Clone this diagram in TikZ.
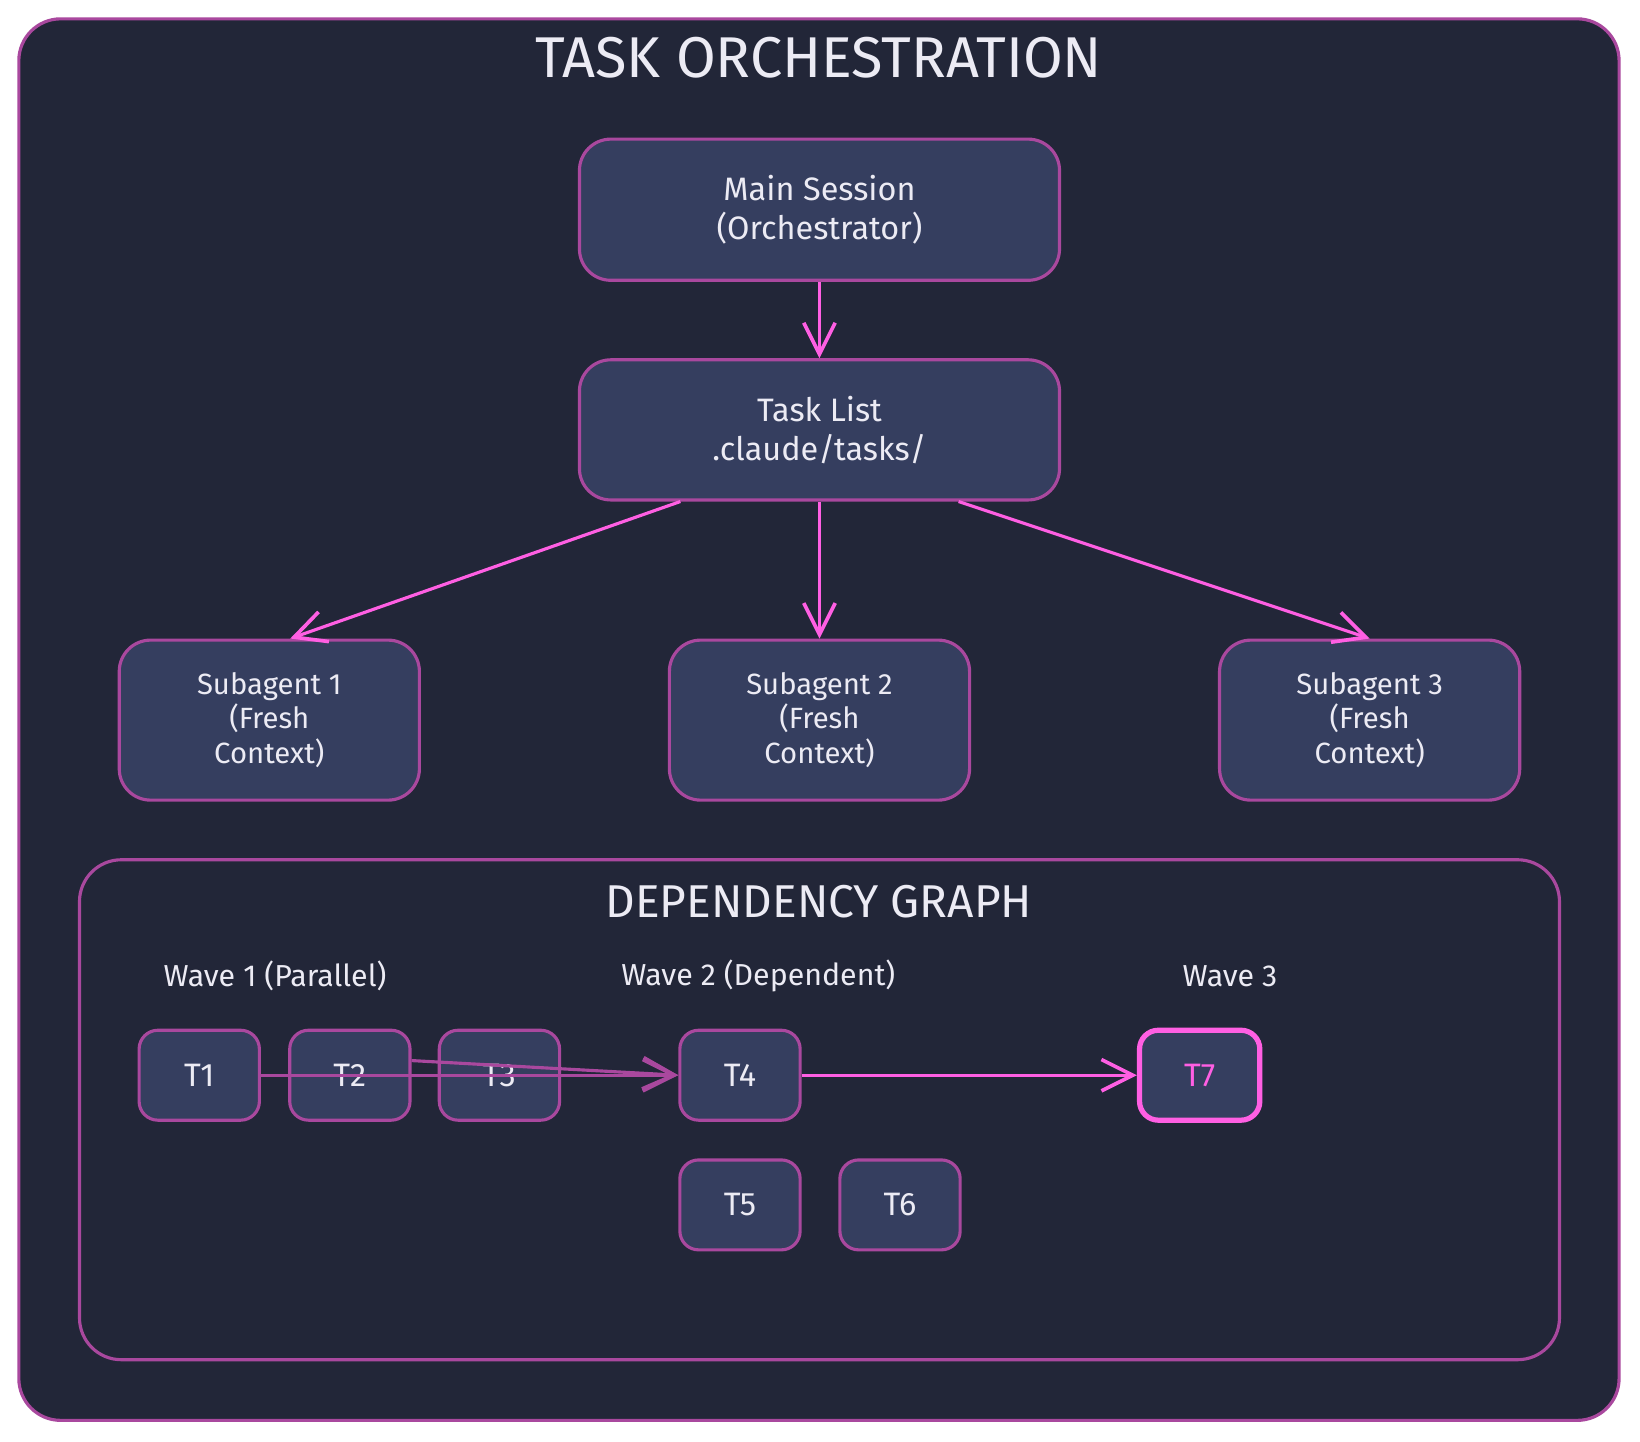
\documentclass[tikz,border=0pt]{standalone}
\usepackage{fontspec}
\setmainfont{Fira Sans}
\usetikzlibrary{arrows.meta,positioning}

\definecolor{panel}{HTML}{222638}
\definecolor{boxfill}{HTML}{353E5F}
\definecolor{edgepurple}{HTML}{A9489E}
\definecolor{hotpink}{HTML}{FF5FE3}
\definecolor{inktext}{HTML}{ECEBF4}

\tikzset{
  bigbox/.style={draw=edgepurple, line width=3pt, fill=boxfill, rounded corners=30pt,
                 text=inktext, align=center, inner sep=0pt,
                 font=\fontsize{31}{37}\selectfont},
  agentbox/.style={bigbox, minimum width=287pt, minimum height=153pt,
                 font=\fontsize{28}{33}\selectfont},
  taskbox/.style={bigbox, rounded corners=18pt, minimum width=115pt, minimum height=86pt,
                 font=\fontsize{31}{37}\selectfont},
  flow/.style={draw=hotpink, line width=3pt, -{Straight Barb[length=30pt,width=30pt,line width=3.5pt]}},
  deplink/.style={flow, draw=edgepurple},
  wavelabel/.style={text=inktext, font=\fontsize{29}{33}\selectfont},
}

\begin{document}
\begin{tikzpicture}[x=1pt, y=-1pt]
  \useasboundingbox (0,0) rectangle (1568,1378);
  \fill[white] (0,0) rectangle (1568,1378);

  % frames
  \draw[edgepurple, line width=3pt, fill=panel, rounded corners=40pt] (18,18) rectangle (1548,1358);
  \draw[edgepurple, line width=3pt, rounded corners=40pt] (76,822) rectangle (1491,1300);

  \node[text=inktext, font=\fontsize{55}{60}\selectfont] (title) at (783,55) {TASK ORCHESTRATION};
  \node[text=inktext, font=\fontsize{44}{48}\selectfont] (deptitle) at (783,862) {DEPENDENCY GRAPH};

  % top of the flow
  \node[bigbox, minimum width=459pt, minimum height=135pt] (main)  at (783.5,200.5) {Main Session\\(Orchestrator)};
  \node[bigbox, minimum width=459pt, minimum height=134pt] (tasks) at (783.5,411) {Task List\\.claude/tasks/};

  \node[agentbox] (sub1) at (257.5,688.5)  {Subagent 1\\(Fresh\\Context)};
  \node[agentbox] (sub2) at (783.5,688.5)  {Subagent 2\\(Fresh\\Context)};
  \node[agentbox] (sub3) at (1309.5,688.5) {Subagent 3\\(Fresh\\Context)};

  % waves
  \node[wavelabel] (wave1) at (263,933)  {Wave 1 (Parallel)};
  \node[wavelabel] (wave2) at (725,933)  {Wave 2 (Dependent)};
  \node[wavelabel] (wave3) at (1176,933) {Wave 3};

  \node[taskbox] (t1) at (190.5,1028) {T1};
  \node[taskbox] (t2) [right=26pt of t1] {T2};
  \node[taskbox] (t3) [right=25pt of t2] {T3};
  \node[taskbox] (t4) at (707.5,1028) {T4};
  \node[taskbox] (t5) [below=35pt of t4] {T5};
  \node[taskbox] (t6) [right=35pt of t5] {T6};
  \node[taskbox, draw=hotpink, line width=5pt, text=hotpink] (t7) at (1147,1028) {T7};

  \draw[flow] (main) -- (tasks);
  \draw[flow] ([xshift=-133pt]tasks.south) -- ([xshift=20pt]sub1.north);
  \draw[flow] (tasks.south) -- (sub2.north);
  \draw[flow] ([xshift=133pt]tasks.south) -- (sub3.north);

  \draw[deplink] (t1) -- (t4);
  \draw[deplink] ([yshift=14pt]t2.east) -- (t4.west);
  \draw[flow] (t4) -- (t7);
\end{tikzpicture}
\end{document}
